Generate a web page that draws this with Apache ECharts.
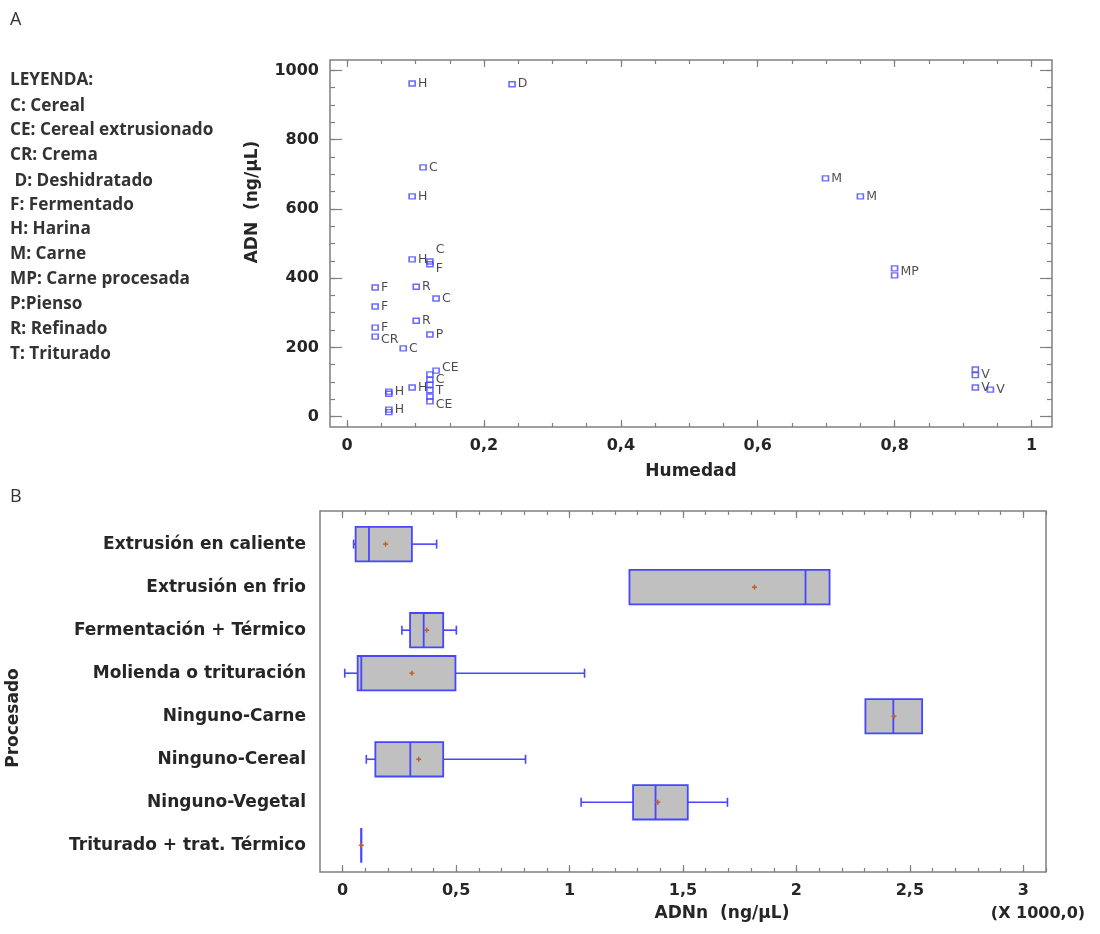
<!DOCTYPE html>
<html>
<head>
<meta charset="utf-8">
<script src="https://cdn.jsdelivr.net/npm/echarts@6/dist/echarts.min.js"></script>
<style>html,body{margin:0;padding:0;background:#fff;}#c{width:1100px;height:934px;}</style>
</head>
<body>
<div id="c"></div>
<script>
// ---------------- DATA ----------------
// Panel A: scatter (Humedad vs ADN)
const scatterX = [0.095, 0.241, 0.111, 0.095, 0.699, 0.750, 0.095, 0.121, 0.121, 0.041, 0.101, 0.130,
  0.041, 0.101, 0.121, 0.041, 0.041, 0.082, 0.130, 0.121, 0.121, 0.121, 0.121, 0.121, 0.121,
  0.095, 0.061, 0.061, 0.061, 0.061, 0.800, 0.800, 0.918, 0.918, 0.918, 0.940];
const scatterY = [962, 960, 720, 636, 688, 636, 454, 448, 440, 373, 375, 341,
  318, 277, 237, 257, 231, 197, 133, 122, 106, 92, 76, 58, 44,
  84, 72, 66, 20, 13, 428, 408, 136, 120, 84, 78];
const scatterLabel = ['H', 'D', 'C', 'H', 'M', 'M', 'H', 'C', 'F', 'F', 'R', 'C',
  'F', 'R', 'P', 'F', 'CR', 'C', 'CE', 'C', 'C', 'T', 'T', 'CE', 'CE',
  'H', 'H', 'H', 'H', 'H', 'MP', 'MP', 'V', 'V', 'V', 'V'];
const aXTicks = [0, 0.2, 0.4, 0.6, 0.8, 1];
const aYTicks = [0, 200, 400, 600, 800, 1000];
const legendLines = ['LEYENDA:', 'C: Cereal', 'CE: Cereal extrusionado', 'CR: Crema', ' D: Deshidratado',
  'F: Fermentado', 'H: Harina', 'M: Carne', 'MP: Carne procesada', 'P:Pienso', 'R: Refinado', 'T: Triturado'];

// Panel B: box-and-whisker (ADNn by Procesado), ng/µL
const procCategories = ['Extrusión en caliente', 'Extrusión en frio', 'Fermentación + Térmico',
  'Molienda o trituración', 'Ninguno-Carne', 'Ninguno-Cereal', 'Ninguno-Vegetal', 'Triturado + trat. Térmico'];
const boxMin    = [48, 1264, 261, 9, 2304, 104, 1051, 82];
const boxQ1     = [57, 1264, 297, 66, 2304, 144, 1280, 82];
const boxMedian = [116, 2040, 357, 82, 2427, 298, 1379, 82];
const boxQ3     = [305, 2146, 443, 497, 2554, 443, 1521, 82];
const boxMax    = [414, 2146, 501, 1066, 2554, 806, 1696, 82];
const boxMean   = [189, 1815, 370, 305, 2430, 335, 1389, 82];
const bXTicks = [0, 500, 1000, 1500, 2000, 2500, 3000];

// ---------------- STYLE / LAYOUT ----------------
const FRAME = '#808080';
const BLUE = '#4646ff';
const TXT = '#262626';
const BOLD = 'DejaVu Sans';
function steps(from, to, step) { const o = []; for (let v = from; v <= to + 1e-9; v += step) o.push(+v.toFixed(6)); return o; }
const aXMinor = steps(0, 1, 0.05), aYMinor = steps(0, 1000, 50), bXMinor = steps(0, 3100, 100);
const labelNudge = { 7: [0, -12], 8: [0, 4], 16: [0, 3], 18: [0, -3], 24: [0, 3], 30: [0, 3] };
const hiddenLabel = new Set([19, 21, 23, 27, 29, 31, 32]);
const comma = v => String(v).replace('.', ',');

const tickFont = { fontFamily: BOLD, fontWeight: 'bold', fontSize: 16, color: TXT };

function tickAxis(extra, ticks, len, labels) {
  return Object.assign({
    type: 'value', splitLine: { show: false },
    axisLine: { show: false, onZero: false },
    axisTick: { show: true, inside: true, length: len, customValues: ticks, lineStyle: { color: FRAME, width: 1.2 } },
    axisLabel: labels ? Object.assign({ customValues: ticks }, tickFont, labels) : { show: false }
  }, extra);
}

const scatterData = scatterX.map((x, i) => {
  const nud = labelNudge[i] || [0, 0];
  return {
    value: [x, scatterY[i]],
    name: scatterLabel[i],
    label: { show: !hiddenLabel.has(i), offset: nud }
  };
});

const boxData = procCategories.map((c, i) => [i, boxMin[i], boxQ1[i], boxMedian[i], boxQ3[i], boxMax[i], boxMean[i]]);

function renderBox(params, api) {
  const row = api.value(0);
  const vmin = api.value(1), q1 = api.value(2), med = api.value(3), q3 = api.value(4), vmax = api.value(5), mean = api.value(6);
  const p = v => api.coord([v, row]);
  const h = Math.abs(api.size([0, 1])[1]) * 0.4;
  const cy = p(q1)[1];
  const x1 = p(q1)[0], x3 = p(q3)[0], xm = p(med)[0];
  const lineStyle = { stroke: BLUE, lineWidth: 1.6 };
  const ch = [];
  if (vmin < q1) {
    const xa = p(vmin)[0];
    ch.push({ type: 'line', shape: { x1: xa, y1: cy, x2: x1, y2: cy }, style: lineStyle });
    ch.push({ type: 'line', shape: { x1: xa, y1: cy - 4.5, x2: xa, y2: cy + 4.5 }, style: lineStyle });
  }
  if (vmax > q3) {
    const xb = p(vmax)[0];
    ch.push({ type: 'line', shape: { x1: x3, y1: cy, x2: xb, y2: cy }, style: lineStyle });
    ch.push({ type: 'line', shape: { x1: xb, y1: cy - 4.5, x2: xb, y2: cy + 4.5 }, style: lineStyle });
  }
  ch.push({ type: 'rect', shape: { x: x1, y: cy - h, width: x3 - x1, height: 2 * h },
    style: { fill: '#c0c0c0', stroke: BLUE, lineWidth: 1.8 } });
  ch.push({ type: 'line', shape: { x1: xm, y1: cy - h, x2: xm, y2: cy + h }, style: { stroke: BLUE, lineWidth: 1.8 } });
  const pm = p(mean);
  const ms = { stroke: '#c0602a', lineWidth: 1.5 };
  ch.push({ type: 'line', shape: { x1: pm[0] - 2.5, y1: cy, x2: pm[0] + 2.5, y2: cy }, style: ms });
  ch.push({ type: 'line', shape: { x1: pm[0], y1: cy - 2.5, x2: pm[0], y2: cy + 2.5 }, style: ms });
  return { type: 'group', children: ch };
}

const gridA = { left: 330, top: 60, width: 722, height: 367 };
const gridB = { left: 320, top: 511, width: 726, height: 361 };
const gridStyle = { show: true, borderColor: FRAME, borderWidth: 1.5, backgroundColor: 'transparent', outerBoundsMode: 'none', containLabel: false };

const option = {
  animation: false,
  backgroundColor: '#fff',
  grid: [Object.assign({}, gridA, gridStyle), Object.assign({}, gridB, gridStyle)],
  xAxis: [
    tickAxis({ gridIndex: 0, position: 'bottom', min: -0.025, max: 1.03,
      name: 'Humedad', nameLocation: 'middle', nameGap: 36,
      nameTextStyle: { fontFamily: BOLD, fontWeight: 'bold', fontSize: 17, color: TXT } },
      aXTicks, 7, { formatter: v => comma(v), margin: 11 }),
    tickAxis({ gridIndex: 0, position: 'bottom', min: -0.025, max: 1.03 }, aXMinor, 4),
    tickAxis({ gridIndex: 0, position: 'top', min: -0.025, max: 1.03 }, aXTicks, 7),
    tickAxis({ gridIndex: 0, position: 'top', min: -0.025, max: 1.03 }, aXMinor, 4),
    tickAxis({ gridIndex: 1, position: 'bottom', min: -100, max: 3100 },
      bXTicks, 7, { formatter: v => comma(v / 1000), margin: 11 }),
    tickAxis({ gridIndex: 1, position: 'bottom', min: -100, max: 3100 }, bXMinor, 4),
    tickAxis({ gridIndex: 1, position: 'top', min: -100, max: 3100 }, bXTicks, 7),
    tickAxis({ gridIndex: 1, position: 'top', min: -100, max: 3100 }, bXMinor, 4)
  ],
  yAxis: [
    tickAxis({ gridIndex: 0, position: 'left', min: -30, max: 1030 }, aYTicks, 12, { formatter: v => String(v), margin: 11 }),
    tickAxis({ gridIndex: 0, position: 'left', min: -30, max: 1030 }, aYMinor, 5),
    tickAxis({ gridIndex: 0, position: 'right', min: -30, max: 1030 }, aYTicks, 12),
    tickAxis({ gridIndex: 0, position: 'right', min: -30, max: 1030 }, aYMinor, 5),
    {
      gridIndex: 1, type: 'value', position: 'left', inverse: true, min: -0.77, max: 7.62,
      splitLine: { show: false }, axisLine: { show: false, onZero: false }, axisTick: { show: false },
      axisLabel: Object.assign({ customValues: procCategories.map((c, i) => i), formatter: v => procCategories[v], margin: 14 },
        tickFont, { fontSize: 17 })
    }
  ],
  series: [
    {
      type: 'scatter', xAxisIndex: 0, yAxisIndex: 0,
      symbol: 'rect', symbolSize: [6, 5],
      itemStyle: { color: 'rgba(255,255,255,0)', borderColor: BLUE, borderWidth: 1.5 },
      label: { show: true, position: 'right', distance: 2, formatter: p => p.name,
        fontFamily: BOLD, fontSize: 12.5, color: '#1e1e1e' },
      data: scatterData
    },
    {
      type: 'custom', xAxisIndex: 4, yAxisIndex: 4, clip: false,
      renderItem: renderBox,
      encode: { x: [1, 2, 3, 4, 5, 6], y: 0 },
      data: boxData
    }
  ],
  graphic: [
    { type: 'text', x: 10, y: 20, style: { text: 'A', font: '18px "Open Sans"', fill: '#333', verticalAlign: 'middle' } },
    { type: 'text', x: 10, y: 497, style: { text: 'B', font: '18px "Open Sans"', fill: '#333', verticalAlign: 'middle' } },
    { type: 'text', x: 253, y: 202, rotation: Math.PI / 2,
      style: { text: 'ADN  (ng/µL)', font: 'bold 17px "DejaVu Sans"', fill: TXT, align: 'center', verticalAlign: 'middle' } },
    { type: 'text', x: 14, y: 718, rotation: Math.PI / 2,
      style: { text: 'Procesado', font: 'bold 17px "DejaVu Sans"', fill: TXT, align: 'center', verticalAlign: 'middle' } },
    { type: 'text', x: 722, y: 914,
      style: { text: 'ADNn  (ng/µL)', font: 'bold 17px "DejaVu Sans"', fill: TXT, align: 'center', verticalAlign: 'middle' } },
    { type: 'text', x: 1038, y: 914,
      style: { text: '(X 1000,0)', font: 'bold 16px "DejaVu Sans"', fill: TXT, align: 'center', verticalAlign: 'middle' } }
  ].concat(legendLines.map((t, i) => ({
    type: 'text', x: 10, y: [80, 106, 130, 155, 181, 205, 229, 254, 279, 304, 329, 354][i],
    style: { text: t, font: 'bold 17.2px "Open Sans"', fill: '#333', verticalAlign: 'middle' }
  })))
};

const chart = echarts.init(document.getElementById('c'), null, { renderer: 'canvas' });
chart.setOption(option);
</script>
</body>
</html>
